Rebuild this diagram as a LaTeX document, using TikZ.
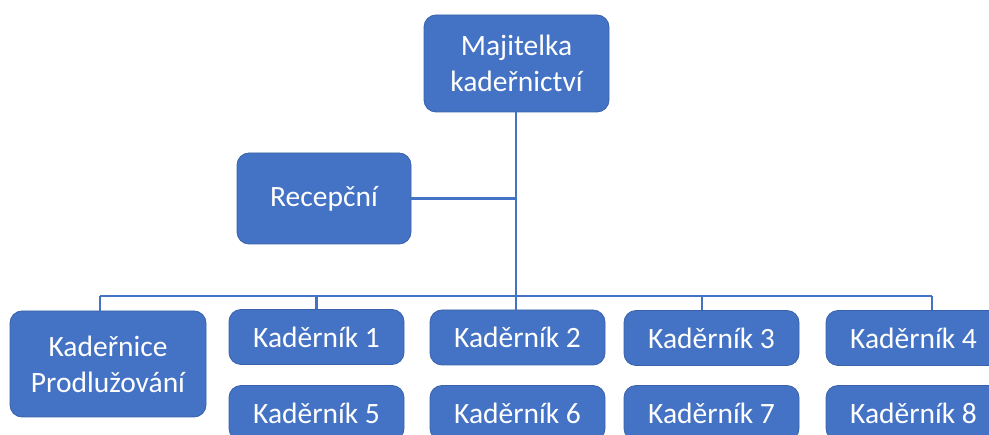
\documentclass[tikz,border=0pt]{standalone}
\usepackage{fontspec}
\setmainfont{Carlito}
\usetikzlibrary{positioning}
\definecolor{orgblue}{HTML}{4472C4}
\definecolor{orgedge}{HTML}{3A62AA}

\begin{document}
\begin{tikzpicture}[x=1pt, y=-1pt,
		box/.style={draw=orgedge, line width=0.8pt, fill=orgblue, rounded corners=12pt, 
		text=white, align=center, inner sep=0pt, font=\fontsize{29.5}{36}\selectfont},
		kbox/.style={box, minimum width=175pt, minimum height=55pt},
		link/.style={draw=orgblue, line width=2.6pt}]
		\useasboundingbox (0,0) rectangle (989,435);
		
		\node (Majitelka) at (516.5,63.5) [box, minimum width=185pt, minimum height=97pt]{Majitelka\\kadeřnictví};
		\node (Recepcni) at (324,198.5) [box, minimum width=174pt, minimum height=91pt]{Recepční};
		\node (Prodluzovani) at (108,364) [box, minimum width=196pt, minimum height=106pt]{Kadeřnice\\Prodlužování};
		
		\node (Kadernik 1) at (316.5,337) [kbox]{Kaděrník 1};
		\node (Kadernik 2) at (517.5,337.5) [kbox]{Kaděrník 2};
		\node (Kadernik 3) at (711.5,338) [kbox]{Kaděrník 3};
		\node (Kadernik 4) at (913.5,338) [kbox]{Kaděrník 4};
		\node (Kadernik 5) at (316.5,413) [kbox]{Kaděrník 5};
		\node (Kadernik 6) at (517.5,413) [kbox]{Kaděrník 6};
		\node (Kadernik 7) at (711.5,413) [kbox]{Kaděrník 7};
		\node (Kadernik 8) at (913.5,413) [kbox]{Kaděrník 8};
		
		\coordinate (Bus) at (516,296);
		\coordinate (Bus left) at (100,296);
		\coordinate (Bus right) at (932,296);
		\coordinate (Drop 3) at (702,296);
		
		\draw[link] (Majitelka.south -| Bus) -- (Bus);
		\draw[link] (Recepcni.east) -- (Recepcni.east -| Bus);
		\draw[link] (Bus left) -- (Bus right);
		\draw[link] (Bus left) -- (Bus left |- Prodluzovani.north);
		\draw[link] (Kadernik 1.north |- Bus) -- (Kadernik 1.north);
		\draw[link] (Bus) -- (Bus |- Kadernik 2.north);
		\draw[link] (Drop 3) -- (Drop 3 |- Kadernik 3.north);
		\draw[link] (Bus right) -- (Bus right |- Kadernik 4.north);
\end{tikzpicture}
\end{document}
